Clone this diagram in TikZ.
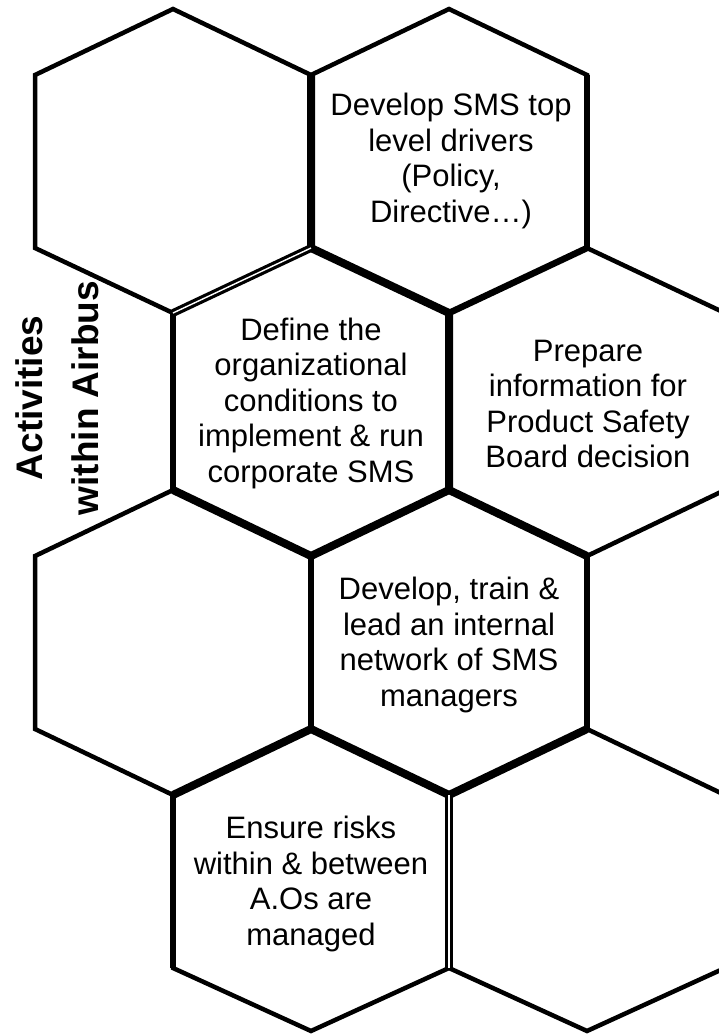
\documentclass[tikz,border=0pt]{standalone}
\usepackage{fontspec}
\setmainfont{Liberation Sans}
\newcommand\hexshape[5]{(#1,#2) -- (#1+138,#3) -- (#1+138,#4) -- (#1,#5) -- (#1-138,#4) -- (#1-138,#3) -- cycle}
\tikzset{
  hexline/.style={draw=black, line width=4.5pt, line join=miter},
  boldedge/.style={draw=black, line width=8pt, line join=miter},
  midedge/.style={draw=black, line width=5.5pt},
  dbledge/.style={draw=black, line width=3.2pt, double=white, double distance=1.4pt},
  hextext/.style={align=center, font=\fontsize{31}{35.5}\selectfont, inner sep=0pt},
  sidetext/.style={align=center, font=\fontsize{37}{56}\selectfont\bfseries, inner sep=0pt, rotate=90}
}
\begin{document}
\begin{tikzpicture}[x=1pt, y=-1pt]
\useasboundingbox (0,0) rectangle (719,1034);
\fill[white] (0,0) rectangle (719,1034);
\clip (0,0) rectangle (719,1034);
% row 1
\draw[hexline] \hexshape{173}{9}{75}{248}{313};
\draw[hexline] \hexshape{449}{9}{75}{248}{313};
% row 2
\draw[hexline] \hexshape{311}{248}{313}{490}{556};
\draw[hexline] \hexshape{587}{248}{313}{490}{556};
% row 3
\draw[hexline] \hexshape{173}{490}{556}{729}{795};
\draw[hexline] \hexshape{449}{490}{556}{729}{795};
% row 4
\draw[hexline] \hexshape{311}{729}{795}{968}{1031};
\draw[hexline] \hexshape{587}{729}{795}{968}{1031};
% heavier shared edges
\draw[boldedge] (311,75) -- (311,248) -- (449,313) -- (449,490) -- (587,556);
\draw[boldedge] (173,490) -- (311,556) -- (449,490);
\draw[boldedge] (173,795) -- (311,729) -- (449,795) -- (587,729);
\draw[boldedge, line width=6.5pt] (449,313) -- (587,248);
\draw[boldedge, line width=6.5pt] (311,556) -- (311,729);
\draw[midedge] (173,313) -- (173,490);
\draw[midedge] (173,795) -- (173,968);
\draw[midedge] (587,75) -- (587,248);
\draw[midedge] (587,556) -- (587,729);
\draw[dbledge] (173,313) -- (311,248);
\draw[dbledge] (449,795) -- (449,968);
% texts
\node[hextext] (drivers) at (451,161) {Develop SMS top\\level drivers\\(Policy,\\Directive…)};
\node[hextext] (conditions) at (311,403) {Define the\\organizational\\conditions to\\implement \& run\\corporate SMS};
\node[hextext] (board) at (588,404) {Prepare\\information for\\Product Safety\\Board decision};
\node[hextext] (network) at (449,645) {Develop, train \&\\lead an internal\\network of SMS\\managers};
\node[hextext] (risks) at (311,884) {Ensure risks\\within \& between\\A.Os are\\managed};
\node[sidetext] (side) at (57,398) {Activities\\within Airbus};
\end{tikzpicture}
\end{document}
